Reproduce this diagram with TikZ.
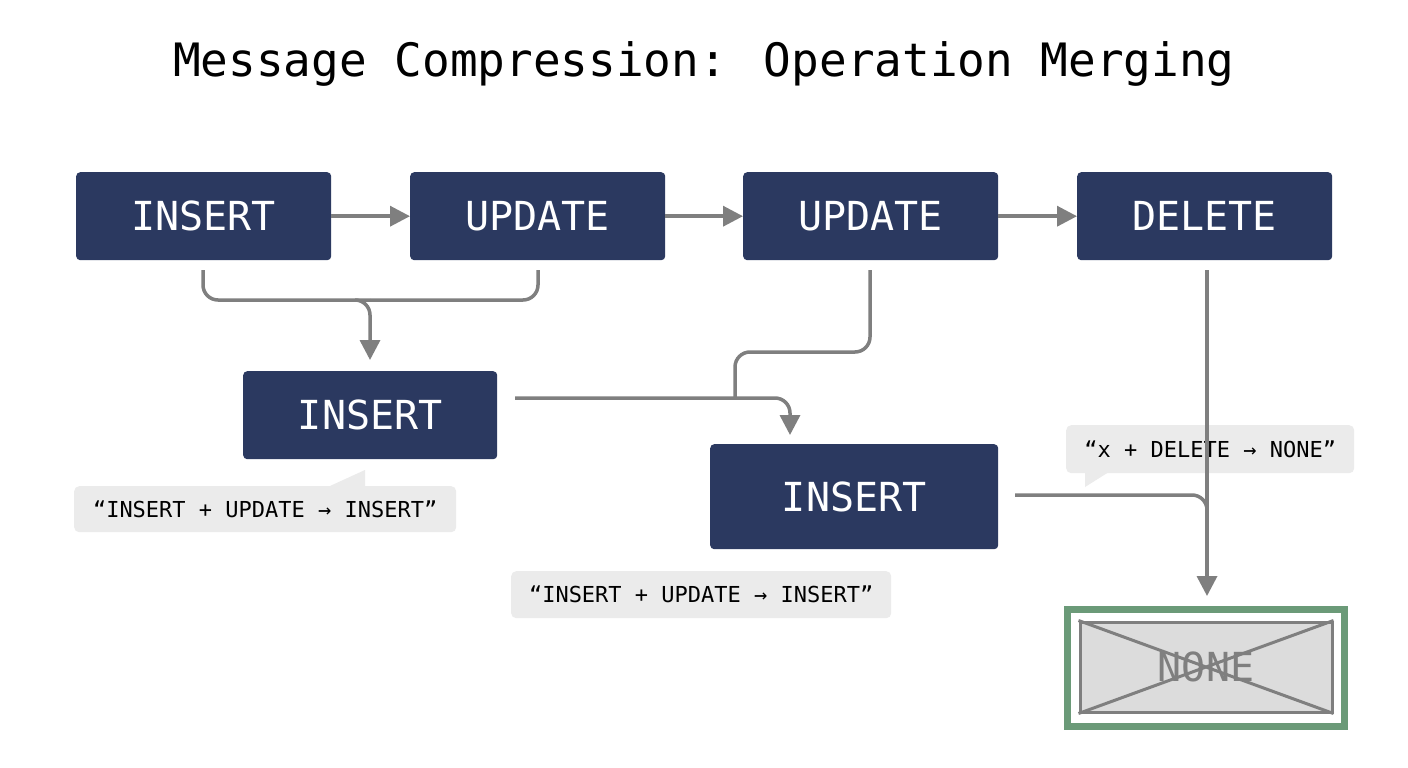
\documentclass[tikz,border=0pt]{standalone}
\usepackage{fontspec}
\setmainfont{DejaVu Sans Mono}
\usetikzlibrary{arrows.meta}
\definecolor{navy}{HTML}{2B3960}
\definecolor{ar}{HTML}{7F7F7F}
\definecolor{bub}{HTML}{EBEBEB}
\definecolor{grn}{HTML}{6B9A78}
\definecolor{nbox}{HTML}{DCDCDC}
\begin{document}
\begin{tikzpicture}[x=1pt,y=-1pt,
 op/.style={fill=navy,rounded corners=4pt,text=white,font=\fontsize{40}{40}\selectfont,inner sep=0pt,anchor=north west},
 conn/.style={draw=ar,line width=3.5pt,rounded corners=15pt},
 tip/.style={-{Triangle[length=20pt,width=20pt]}},
 bubble/.style={fill=bub,rounded corners=5pt,font=\fontsize{22}{22}\selectfont,inner sep=0pt,anchor=north west}]
\useasboundingbox (0,0) rectangle (1408,768);
\fill[white] (0,0) rectangle (1408,768);
\node[font=\fontsize{46}{46}\selectfont] (title) at (704,64) {Message Compression: Operation Merging};
\node[op,minimum width=255pt,minimum height=88pt] (b1) at (76,172) {INSERT};
\node[op,minimum width=255pt,minimum height=88pt] (b2) at (410,172) {UPDATE};
\node[op,minimum width=255pt,minimum height=88pt] (b3) at (743,172) {UPDATE};
\node[op,minimum width=255pt,minimum height=88pt] (b4) at (1077,172) {DELETE};
\node[op,minimum width=254pt,minimum height=88pt] (m1) at (243,371) {INSERT};
\node[op,minimum width=288pt,minimum height=105pt] (m2) at (710,444) {INSERT};
% bubbles
\fill[bub] (330,486) -- (365,470) -- (365,490) -- cycle;
\node[bubble,minimum width=382pt,minimum height=46pt] (t1) at (74,486) {“INSERT + UPDATE → INSERT”};
\node[bubble,minimum width=380pt,minimum height=47pt] (t2) at (511,571) {“INSERT + UPDATE → INSERT”};
\fill[bub] (1085,470) -- (1085,487) -- (1112,470) -- cycle;
\node[bubble,minimum width=288pt,minimum height=48pt] (t3) at (1066,425) {“x + DELETE → NONE”};
% NONE
\node[draw=grn,line width=7pt,fill=white,minimum width=277pt,minimum height=117pt,inner sep=0pt] (none) at (1206,668) {};
\node[draw=ar,line width=3pt,fill=nbox,minimum width=252pt,minimum height=90pt,inner sep=0pt,text=ar,font=\fontsize{40}{40}\selectfont] (nin) at (1206,667) {NONE};
\draw[ar,line width=3pt] (nin.north west) -- (nin.south east) (nin.south west) -- (nin.north east);
% arrows
\draw[conn,tip] (b1.east) -- (b2.west);
\draw[conn,tip] (b2.east) -- (b3.west);
\draw[conn,tip] (b3.east) -- (b4.west);
\coordinate (j1) at (370,300);
\draw[conn] (203,270) -- (203,300) -- (j1);
\draw[conn] (538,270) -- (538,300) -- (j1);
\draw[conn,tip] (355,300) -- (370,300) -- (370,360);
\draw[conn] (870,270) -- (870,352) -- (735,352) -- (735,398);
\draw[conn,tip] (515,398) -- (790,398) -- (790,435);
\draw[conn] (1015,495) -- (1207,495) -- (1207,530);
\draw[conn,tip] (1207,270) -- (1207,596);
\end{tikzpicture}
\end{document}
